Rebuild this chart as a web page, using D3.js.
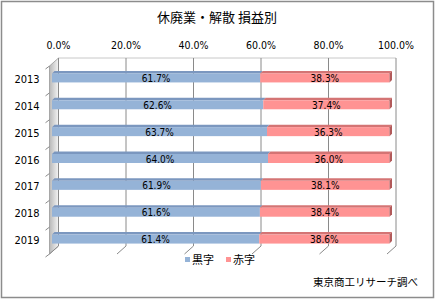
<!DOCTYPE html>
<html>
<head>
<meta charset="utf-8">
<script src="https://cdn.jsdelivr.net/npm/d3@7"></script>
<style>
  body { margin: 0; background: #fff; }
  svg { display: block; font-family: "Noto Sans CJK JP", "DejaVu Sans", sans-serif; }
</style>
</head>
<body>
<div id="chart"></div>
<script>
// chart data
const years = ["2013", "2014", "2015", "2016", "2017", "2018", "2019"];
const profit = [61.7, 62.6, 63.7, 64.0, 61.9, 61.6, 61.4]; // 黒字
const loss = [38.3, 37.4, 36.3, 36.0, 38.1, 38.4, 38.6];   // 赤字
const ticks = [0, 20, 40, 60, 80, 100];
const seriesNames = ["黒字", "赤字"];

const width = 435, height = 300;
const svg = d3.select("#chart").append("svg")
  .attr("width", width).attr("height", height);

// outer frame
svg.append("rect")
  .attr("x", 1.5).attr("y", 1.5)
  .attr("width", width - 3).attr("height", height - 4)
  .attr("fill", "#fff").attr("stroke", "#8c8c8c").attr("stroke-width", 1.5);

// title
svg.append("text")
  .attr("x", 217).attr("y", 22)
  .attr("text-anchor", "middle")
  .attr("font-size", 13)
  .text("休廃業・解散 損益別");

// back plane scales
const x = d3.scaleLinear().domain([0, 100]).range([58.5, 396]);
const y = d3.scaleBand().domain(years).range([58, 246]);
const floorDx = -9, floorDy = 8;   // depth of the floor
const barDx = -6.5, barDy = 6.5;   // bars sit in front part of the depth
const depth = 2.5;                 // bar thickness going back
const faceH = 9;

// left wall
const defs = svg.append("defs");
const grad = defs.append("linearGradient").attr("id", "wall")
  .attr("x1", 0).attr("x2", 1).attr("y1", 0).attr("y2", 0);
grad.append("stop").attr("offset", "0%").attr("stop-color", "#b8b8b8");
grad.append("stop").attr("offset", "100%").attr("stop-color", "#f4f4f4");

const plotTop = y.range()[0], plotBottom = y.range()[1];
svg.append("path")
  .attr("d", `M${x(0)},${plotTop}L${x(0)},${plotBottom}L${x(0) + floorDx},${plotBottom + floorDy}L${x(0) + floorDx},${plotTop + floorDy}Z`)
  .attr("fill", "url(#wall)").attr("stroke", "#999").attr("stroke-width", 0.8);

// back plane gridlines + floor edges
svg.append("line")
  .attr("x1", x(0)).attr("x2", x(100)).attr("y1", plotTop).attr("y2", plotTop)
  .attr("stroke", "#c8c8c8");
svg.selectAll(".grid").data(ticks).enter().append("path")
  .attr("class", "grid")
  .attr("d", d => `M${x(d)},${plotTop}L${x(d)},${plotBottom}L${x(d) + floorDx},${plotBottom + floorDy}`)
  .attr("fill", "none").attr("stroke", "#8a8a8a").attr("stroke-width", 1);

// left tick marks between categories
const bounds = years.map(d => y(d)).concat([plotBottom]);
svg.selectAll(".ytick").data(bounds).enter().append("line")
  .attr("x1", x(0) + floorDx).attr("y1", d => d + floorDy)
  .attr("x2", x(0) + floorDx - 4).attr("y2", d => d + floorDy + 3)
  .attr("stroke", "#8a8a8a");

// top axis labels
svg.selectAll(".xlab").data(ticks).enter().append("text")
  .attr("x", d => x(d)).attr("y", 49)
  .attr("text-anchor", "middle")
  .attr("font-size", 10.5)
  .attr("font-family", "DejaVu Sans Condensed, DejaVu Sans")
  .text(d => d.toFixed(1) + "%");

// category labels
svg.selectAll(".ylab").data(years).enter().append("text")
  .attr("x", 27).attr("y", d => y(d) + y.bandwidth() / 2 + barDy + 5)
  .attr("text-anchor", "middle")
  .attr("font-size", 11)
  .attr("font-family", "DejaVu Sans Condensed, DejaVu Sans")
  .text(d => d);

// stacked bars with a little 3D top / side
const colors = [
  { face: "#95b3d7", top: "#7b97bf", side: "#6f8ab0" },
  { face: "#ff9393", top: "#d47474", side: "#b25a5a" }
];
const rows = years.map((yr, i) => ({ yr, parts: [[0, profit[i]], [profit[i], profit[i] + loss[i]]] }));

rows.forEach(r => {
  const cy = y(r.yr) + y.bandwidth() / 2 + barDy;
  const y0 = cy - faceH / 2;
  r.parts.forEach((p, k) => {
    const x0 = x(p[0]) + barDx, x1 = x(p[1]) + barDx;
    const c = colors[k];
    svg.append("path")
      .attr("d", `M${x0},${y0}L${x0 + depth},${y0 - depth}L${x1 + depth},${y0 - depth}L${x1},${y0}Z`)
      .attr("fill", c.top);
    svg.append("rect")
      .attr("x", x0).attr("y", y0).attr("width", x1 - x0).attr("height", faceH)
      .attr("fill", c.face);
    if (k === 1) {
      svg.append("path")
        .attr("d", `M${x1},${y0}L${x1 + depth},${y0 - depth}L${x1 + depth},${y0 + faceH - depth}L${x1},${y0 + faceH}Z`)
        .attr("fill", c.side);
    }
    svg.append("text")
      .attr("x", (x0 + x1) / 2).attr("y", cy + 4)
      .attr("text-anchor", "middle")
      .attr("font-size", 10)
      .attr("font-family", "DejaVu Sans Condensed, DejaVu Sans")
      .text((p[1] - p[0]).toFixed(1) + "%");
  });
});

// legend
const legend = svg.append("g");
const lx = [185, 226];
seriesNames.forEach((s, i) => {
  legend.append("rect")
    .attr("x", lx[i]).attr("y", 257).attr("width", 5).attr("height", 5)
    .attr("fill", colors[i].face);
  legend.append("text")
    .attr("x", lx[i] + 7).attr("y", 264)
    .attr("font-size", 11)
    .text(s);
});

// source note
svg.append("text")
  .attr("x", 418).attr("y", 286)
  .attr("text-anchor", "end")
  .attr("font-size", 10.5)
  .text("東京商工リサーチ調べ");
</script>
</body>
</html>
